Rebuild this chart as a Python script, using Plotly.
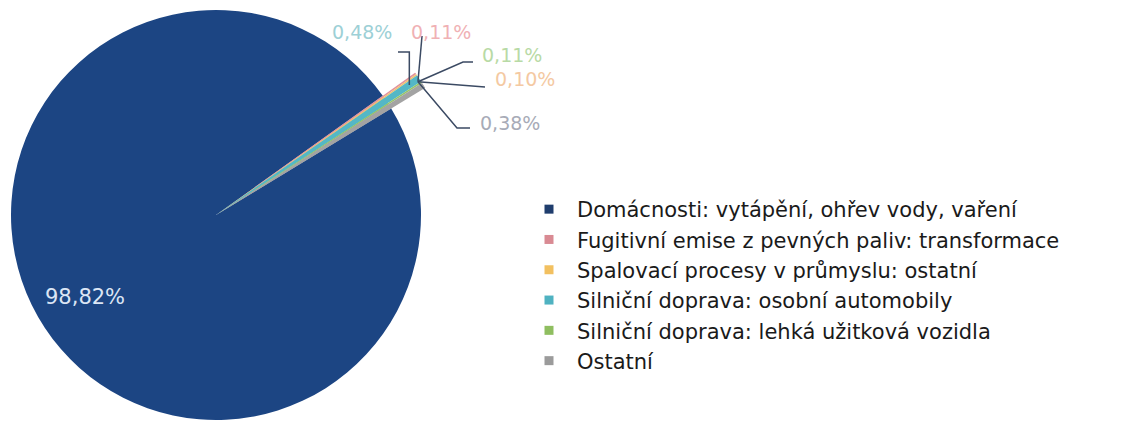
import math
import plotly.graph_objects as go

W, H = 1127, 425

# ---- data ----
categories = [
    "Domácnosti: vytápění, ohřev vody, vaření",
    "Fugitivní emise z pevných paliv: transformace",
    "Spalovací procesy v průmyslu: ostatní",
    "Silniční doprava: osobní automobily",
    "Silniční doprava: lehká užitková vozidla",
    "Ostatní",
]
shares = [98.82, 0.11, 0.10, 0.48, 0.11, 0.38]
value_labels = ["98,82%", "0,11%", "0,10%", "0,48%", "0,11%", "0,38%"]

colors = ["#1c4583", "#e2939d", "#f3c26a", "#54b7c6", "#98c46a", "#a3a3a3"]
legend_colors = ["#1f3d6d", "#d98a93", "#f2c060", "#4fb2c1", "#8fbe60", "#9b9b9b"]
label_colors = ["#dce6f5", "#f0b1b4", "#f4c9a2", "#9dd0d6", "#b8daa5", "#a7abb7"]

OFF = 8  # page body margin


def px(x):
    return (x - OFF) / W


def py(y):
    return 1 - (y - OFF) / H


# geometry (pixels in the final picture)
CX, CY, R = 216, 215, 205
R_OUT = 245
ROT = 58.7  # start angle (clockwise from 12 o'clock) of the first slice

fig = go.Figure()

fig.add_trace(go.Pie(
    values=shares,
    labels=categories,
    marker=dict(colors=colors, line=dict(width=0)),
    sort=False,
    direction="clockwise",
    rotation=ROT,
    textinfo="none",
    hoverinfo="label+percent",
    showlegend=False,
    domain=dict(x=[px(CX - R), px(CX + R)], y=[py(CY + R), py(CY - R)]),
))

# the small, exploded slices that stick out of the pie
total = sum(shares)
thetas, widths = [], []
cum = 0.0
for v in shares:
    w = 360.0 * v / total
    thetas.append(ROT + 360.0 * cum / total + w / 2)
    widths.append(w)
    cum += v

for i in range(1, len(shares)):
    fig.add_trace(go.Barpolar(
        r=[1], theta=[thetas[i] % 360], width=[widths[i]], base=0,
        marker=dict(color=colors[i], line=dict(width=0)),
        showlegend=False, hoverinfo="skip", subplot="polar",
    ))

s0, s1 = 28, 40
bw = math.cos(math.radians(s0))
bh = math.sin(math.radians(s1))
fig.update_layout(polar=dict(
    sector=[s0, s1],
    domain=dict(x=[px(CX), px(CX + R_OUT * bw)], y=[py(CY), py(CY - R_OUT * bh)]),
    bgcolor="rgba(0,0,0,0)",
    radialaxis=dict(visible=False, range=[0, 1]),
    angularaxis=dict(visible=False, direction="clockwise", rotation=90),
    bargap=0,
))

# legend entries
for name, c in zip(categories, legend_colors):
    fig.add_trace(go.Scatter(
        x=[None], y=[None], mode="markers", name=name,
        marker=dict(symbol="square", size=9, color=c),
    ))


def polar_pt(angle_deg, r):
    a = math.radians(angle_deg)
    return CX + r * math.sin(a), CY - r * math.cos(a)


# common tip of the exploded small slices
small_start = ROT + 360.0 * shares[0] / total
tip = polar_pt((small_start + ROT + 360.0) / 2, R_OUT - 3)

label_pos = {3: (362, 32), 1: (441, 32), 4: (512, 55), 2: (525, 79), 5: (510, 123)}
tx, ty = polar_pt(thetas[3], 233)
leader_paths = {
    3: [(tx, ty), (tx, 52), (398, 52)],
    1: [tip, (422, 36)],
    4: [tip, (463, 62), (473, 62)],
    2: [tip, (485, 87)],
    5: [tip, (457, 128), (470, 128)],
}
annotations = []
shapes = []
for i, (lx, ly) in label_pos.items():
    annotations.append(dict(
        x=px(lx), y=py(ly), xref="paper", yref="paper", text=value_labels[i],
        showarrow=False, xanchor="center", yanchor="middle",
        font=dict(family="DejaVu Sans", size=19, color=label_colors[i]),
    ))
    pts = leader_paths[i]
    path = "M " + " L ".join(f"{px(x):.5f},{py(y):.5f}" for x, y in pts)
    shapes.append(dict(type="path", xref="paper", yref="paper", path=path,
                       line=dict(color="#3b4a63", width=1.5)))

annotations.append(dict(
    x=px(85), y=py(297), xref="paper", yref="paper", text=value_labels[0],
    showarrow=False, xanchor="center", yanchor="middle",
    font=dict(family="DejaVu Sans", size=21, color=label_colors[0]),
))

fig.update_layout(
    width=W, height=H,
    margin=dict(l=0, r=0, t=0, b=0),
    paper_bgcolor="white", plot_bgcolor="rgba(0,0,0,0)",
    xaxis=dict(visible=False), yaxis=dict(visible=False),
    showlegend=True,
    legend=dict(
        x=px(521), y=py(189), xanchor="left", yanchor="top",
        itemwidth=46,
        font=dict(family="DejaVu Sans", size=21, color="#1a1a1a"),
        bgcolor="rgba(0,0,0,0)", itemclick=False,
    ),
    annotations=annotations,
    shapes=shapes,
)

fig.write_html("out.html")
